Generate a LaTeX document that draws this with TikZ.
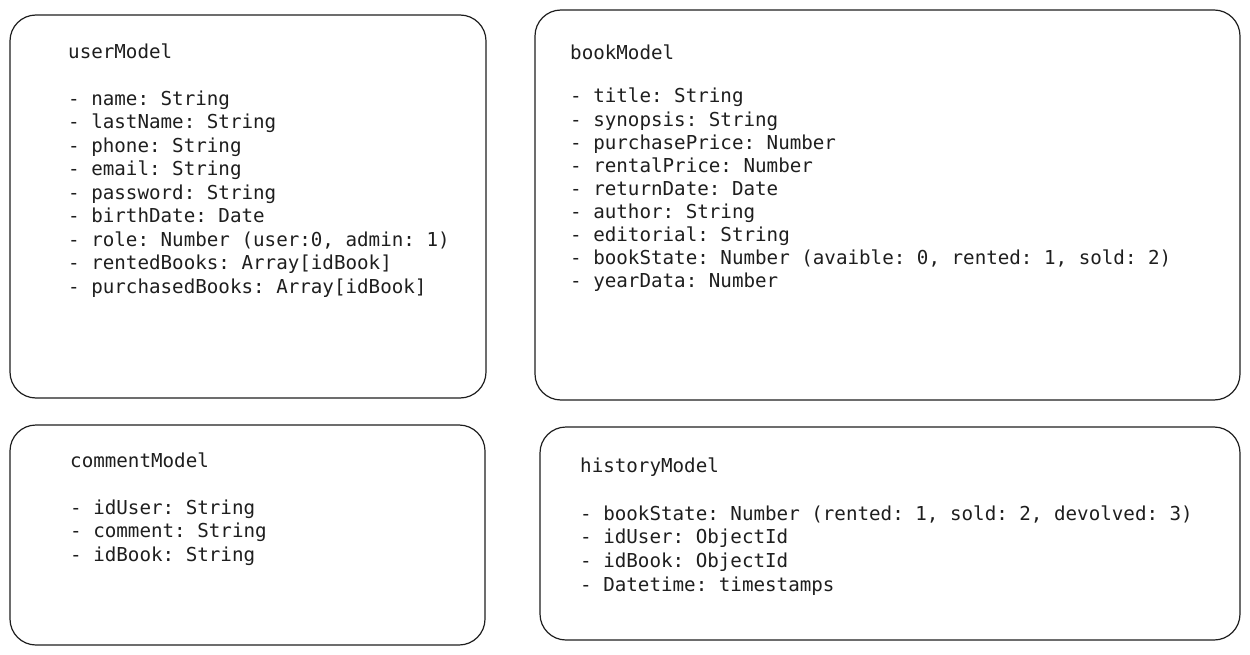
\documentclass[tikz,border=0pt]{standalone}
\usepackage{fontspec}
\setmonofont{DejaVu Sans Mono}
\definecolor{ink}{HTML}{1E1E1E}
\begin{document}
\begin{tikzpicture}[x=1pt,y=-1pt,
  modelbox/.style={draw=ink, line width=1.2pt, rounded corners=26pt, inner sep=0pt},
  modeltext/.style={anchor=north west, inner sep=0pt, align=left, text=ink,
    font=\ttfamily\fontsize{19.2}{23.5}\selectfont}]
\useasboundingbox (0,0) rectangle (1250,655);
% boxes
\node[modelbox, minimum width=476pt, minimum height=383pt] (user) at (248,206.5) {};
\node[modelbox, minimum width=705pt, minimum height=390pt] (book) at (887.5,205) {};
\node[modelbox, minimum width=475pt, minimum height=220pt] (comment) at (247.5,535) {};
\node[modelbox, minimum width=700pt, minimum height=213pt] (history) at (890,533.5) {};
% texts
\node[modeltext] (usertext) at (68,43.5) {userModel\\[23.5pt]
- name: String\\
- lastName: String\\
- phone: String\\
- email: String\\
- password: String\\
- birthDate: Date\\
- role: Number (user:0, admin: 1)\\
- rentedBooks: Array[idBook]\\
- purchasedBooks: Array[idBook]};
\node[modeltext, font=\ttfamily\fontsize{19.2}{23.1}\selectfont] (booktext) at (570,45) {bookModel\\[20pt]
- title: String\\
- synopsis: String\\
- purchasePrice: Number\\
- rentalPrice: Number\\
- returnDate: Date\\
- author: String\\
- editorial: String\\
- bookState: Number (avaible: 0, rented: 1, sold: 2)\\
- yearData: Number};
\node[modeltext] (commenttext) at (70,452.5) {commentModel\\[23.5pt]
- idUser: String\\
- comment: String\\
- idBook: String};
\node[modeltext, font=\ttfamily\fontsize{19.2}{23.7}\selectfont] (historytext) at (580,458) {historyModel\\[23.5pt]
- bookState: Number (rented: 1, sold: 2, devolved: 3)\\
- idUser: ObjectId\\
- idBook: ObjectId\\
- Datetime: timestamps};
\end{tikzpicture}
\end{document}
